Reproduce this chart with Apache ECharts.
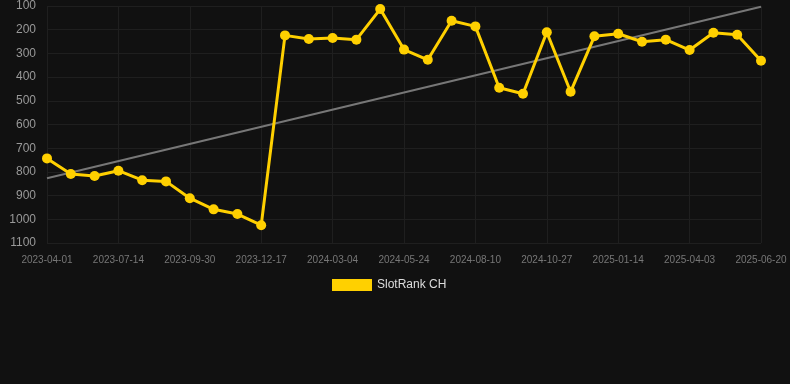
<!DOCTYPE html>
<html>
<head>
<meta charset="utf-8">
<script src="https://cdn.jsdelivr.net/npm/echarts@6/dist/echarts.min.js"></script>
<style>
html,body{margin:0;padding:0;background:#111111;}
#chart{width:790px;height:384px;}
</style>
</head>
<body>
<div id="chart"></div>
<script>
var categories = [
  '2023-04-01','2023-05-06','2023-06-10','2023-07-14','2023-08-09','2023-09-04',
  '2023-09-30','2023-10-26','2023-11-21','2023-12-17','2024-01-12','2024-02-07',
  '2024-03-04','2024-03-31','2024-04-27','2024-05-24','2024-06-19','2024-07-15',
  '2024-08-10','2024-09-05','2024-10-01','2024-10-27','2024-11-22','2024-12-19',
  '2025-01-14','2025-02-09','2025-03-08','2025-04-03','2025-04-29','2025-05-25',
  '2025-06-20'
];
var rankValues = [
  743, 809, 817, 795, 835, 840, 911, 958, 978, 1025,
  224, 239, 235, 242, 113, 284, 327, 162, 186, 445,
  470, 211, 462, 228, 217, 251, 242, 286, 213, 221,
  331
];
var trendStart = 827;
var trendEnd = 103;
var yTicks = { min: 100, max: 1100, interval: 100 };
var seriesName = 'SlotRank CH';

var trendValues = categories.map(function (c, i) {
  if (i === 0) return trendStart;
  if (i === categories.length - 1) return trendEnd;
  return null;
});

var chart = echarts.init(document.getElementById('chart'));
chart.setOption({
  backgroundColor: '#111111',
  animation: false,
  grid: { left: 47, right: 29, top: 6, bottom: 141, containLabel: false },
  legend: {
    data: [seriesName],
    top: 274,
    left: 327,
    itemWidth: 40,
    itemHeight: 12,
    itemGap: 10,
    icon: 'rect',
    textStyle: { color: '#dddddd', fontSize: 12, fontFamily: 'Liberation Sans, Arial, sans-serif' }
  },
  xAxis: {
    type: 'category',
    data: categories,
    boundaryGap: false,
    axisLine: { show: false },
    axisTick: { show: false },
    axisLabel: {
      interval: 2,
      color: '#777777',
      fontSize: 10,
      margin: 12,
      fontFamily: 'Liberation Sans, Arial, sans-serif'
    },
    splitLine: { show: true, interval: 2, lineStyle: { color: '#1f1f1f', width: 1 } }
  },
  yAxis: {
    type: 'value',
    inverse: true,
    min: yTicks.min,
    max: yTicks.max,
    interval: yTicks.interval,
    axisLine: { show: false },
    axisTick: { show: false },
    axisLabel: {
      color: '#999999',
      fontSize: 12,
      margin: 11,
      formatter: function (v) { return String(v); },
      fontFamily: 'Liberation Sans, Arial, sans-serif'
    },
    splitLine: { show: true, lineStyle: { color: '#1f1f1f', width: 1 } }
  },
  series: [
    {
      name: seriesName,
      type: 'line',
      data: rankValues,
      color: '#FFD000',
      lineStyle: { color: '#FFD000', width: 3 },
      itemStyle: { color: '#FFD000' },
      symbol: 'circle',
      symbolSize: 10,
      z: 3
    },
    {
      name: 'trend',
      type: 'line',
      data: trendValues,
      connectNulls: true,
      symbol: 'none',
      lineStyle: { color: '#777777', width: 2 },
      z: 2,
      silent: true
    }
  ]
});
</script>
</body>
</html>
